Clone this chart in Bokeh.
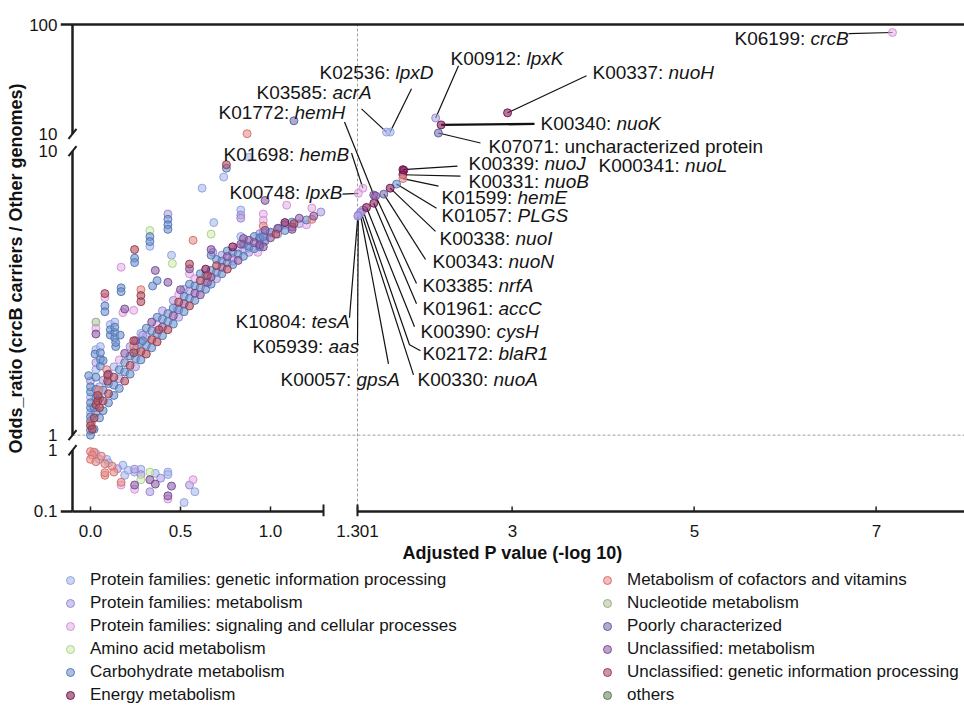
import math
from bokeh.plotting import figure
from bokeh.layouts import column
from bokeh.models import ColumnDataSource, Range1d, FixedTicker, Legend, LegendItem
from bokeh.core.properties import value
from bokeh.embed import file_html
from bokeh.resources import INLINE

FONT = "Liberation Sans"

# ---------------- categories ----------------
CATEGORIES = [
    "Protein families: genetic information processing",
    "Protein families: metabolism",
    "Protein families: signaling and cellular processes",
    "Amino acid metabolism",
    "Carbohydrate metabolism",
    "Energy metabolism",
    "Metabolism of cofactors and vitamins",
    "Nucleotide metabolism",
    "Poorly characterized",
    "Unclassified: metabolism",
    "Unclassified: genetic information processing",
    "others",
]
CODES = ["G", "M", "S", "A", "C", "E", "F", "N", "P", "U", "R", "O"]
FILL = ["#aab9ec", "#b3a3e3", "#e6b3e8", "#d2ebb4", "#6f93cc", "#861b5a",
        "#ea8f8a", "#b4c4a2", "#7474b0", "#8d63a8", "#b04f62", "#6f8a62"]
LINE = ["#8d9fdc", "#9583cf", "#cc8fd2", "#a6cf80", "#4f74b4", "#6a0f45",
        "#d26c68", "#93a67f", "#58589a", "#70478e", "#913748", "#576f4b"]

# ---------------- data: -log10 adjusted P (x), odds ratio (y) ----------------
# steep part near x = 0
zero_x = [0.0, 0.0, 0.0, 0.0, 0.0, 0.0, 0.0, 0.0, 0.0, 0.0, 0.0, 0.0, -0.01, 0.005, 0.01,
          0.03, 0.03, 0.03, 0.03, 0.03, 0.03, 0.03,
          0.03, 0.03, 0.03, 0.03, 0.025,
          0.04, 0.04, 0.045,
          0.055, 0.055, 0.055, 0.055,
          0.08, 0.08, 0.08, 0.08,
          0.07,
          0.095, 0.095, 0.09]
zero_y = [1.0, 1.04, 1.08, 1.12, 1.16, 1.2, 1.25, 1.3, 1.36, 1.42, 1.48, 1.55, 1.62, 1.1, 1.05,
          1.2, 1.28, 1.35, 1.45, 1.6, 1.7, 1.8,
          2.5, 2.38, 2.27, 2.0, 1.93,
          1.32, 1.38, 1.44,
          1.75, 1.85, 1.95, 2.05,
          3.15, 3.05, 2.85, 2.72,
          1.83,
          1.55, 1.63, 1.7]
zero_cat = ["C", "C", "R", "C", "C", "G", "C", "C", "G", "C", "C", "M", "C", "F", "R",
            "C", "R", "C", "C", "C", "G", "M",
            "N", "S", "U", "G", "C",
            "R", "R", "F",
            "C", "C", "C", "G",
            "R", "S", "C", "C",
            "C",
            "R", "R", "F"]

# main diagonal band
band_x = [0.02, 0.02, 0.02,
          0.05, 0.05, 0.05, 0.05,
          0.07, 0.07, 0.07, 0.07,
          0.10, 0.10, 0.10, 0.10,
          0.13, 0.13, 0.13, 0.13,
          0.16, 0.16, 0.16, 0.16,
          0.19, 0.19, 0.19, 0.19,
          0.22, 0.22, 0.22, 0.22,
          0.25, 0.25, 0.25, 0.25,
          0.28, 0.28, 0.28, 0.28,
          0.31, 0.31, 0.31, 0.31,
          0.34, 0.34, 0.34, 0.34,
          0.37, 0.37, 0.37, 0.37,
          0.40, 0.40, 0.40, 0.40,
          0.43, 0.43, 0.43,
          0.46, 0.46, 0.46, 0.46,
          0.49, 0.49, 0.49, 0.49,
          0.52, 0.52, 0.52, 0.52,
          0.55, 0.55, 0.55, 0.55,
          0.58, 0.58, 0.58, 0.58,
          0.61, 0.61, 0.61, 0.61,
          0.64, 0.64, 0.64, 0.64,
          0.67, 0.67, 0.67,
          0.70, 0.70, 0.70, 0.70,
          0.73, 0.73, 0.73, 0.73,
          0.76, 0.76, 0.76, 0.76,
          0.79, 0.79, 0.79, 0.79,
          0.82, 0.82, 0.82,
          0.85, 0.85, 0.85, 0.85,
          0.88, 0.88, 0.88,
          0.91, 0.91, 0.91,
          0.94, 0.94, 0.94,
          0.97, 0.97, 0.97,
          1.00, 1.00,
          1.04, 1.04,
          1.08, 1.08,
          1.12, 1.12,
          1.16, 1.16,
          1.20, 1.24, 1.28]
band_y = [1.05, 1.15, 1.25,
          1.15, 1.25, 1.35, 1.48,
          1.22, 1.32, 1.44, 1.56,
          1.30, 1.40, 1.52, 1.64,
          1.38, 1.50, 1.60, 1.74,
          1.46, 1.58, 1.70, 1.84,
          1.55, 1.67, 1.80, 1.94,
          1.64, 1.76, 1.90, 2.05,
          1.74, 1.86, 2.00, 2.15,
          1.84, 1.97, 2.12, 2.28,
          1.93, 2.07, 2.22, 2.38,
          2.03, 2.17, 2.33, 2.50,
          2.13, 2.28, 2.44, 2.60,
          2.24, 2.40, 2.56, 2.74,
          2.35, 2.51, 2.68,
          2.46, 2.63, 2.80, 2.98,
          2.60, 2.76, 2.94, 3.12,
          2.72, 2.90, 3.08, 3.26,
          2.85, 3.03, 3.22, 3.40,
          2.98, 3.16, 3.35, 3.55,
          3.12, 3.30, 3.50, 3.70,
          3.26, 3.44, 3.64, 3.84,
          3.40, 3.60, 3.80,
          3.55, 3.74, 3.95, 4.15,
          3.70, 3.90, 4.10, 4.30,
          3.84, 4.04, 4.25, 4.45,
          3.98, 4.20, 4.40, 4.60,
          4.12, 4.34, 4.56,
          4.26, 4.48, 4.70, 4.92,
          4.40, 4.62, 4.85,
          4.54, 4.76, 5.00,
          4.68, 4.90, 5.12,
          4.82, 5.04, 5.26,
          4.95, 5.18,
          5.10, 5.34,
          5.25, 5.50,
          5.40, 5.62,
          5.55, 5.80,
          5.72, 5.90, 6.10]
band_cat = ["C", "R", "C",
            "C", "R", "C", "G",
            "C", "R", "C", "M",
            "C", "R", "C", "U",
            "C", "C", "R", "G",
            "C", "M", "C", "S",
            "R", "C", "C", "U",
            "C", "R", "C", "M",
            "M", "C", "C", "U",
            "C", "R", "C", "G",
            "R", "C", "M", "C",
            "C", "R", "C", "U",
            "R", "C", "S", "C",
            "C", "U", "C", "M",
            "R", "C", "C",
            "C", "U", "C", "M",
            "M", "C", "R", "S",
            "C", "U", "C", "G",
            "R", "C", "M", "C",
            "C", "U", "C", "S",
            "U", "C", "R", "C",
            "C", "M", "C", "E",
            "C", "U", "C",
            "M", "C", "R", "C",
            "C", "U", "C", "M",
            "R", "C", "U", "C",
            "C", "M", "C", "E",
            "U", "C", "S",
            "C", "M", "C", "U",
            "M", "C", "U",
            "C", "U", "C",
            "U", "C", "M",
            "C", "M", "U",
            "U", "C",
            "M", "U",
            "C", "M",
            "U", "C",
            "M", "U",
            "C", "U", "M"]

# scattered points above the band
up_x = [0.11, 0.11, 0.11, 0.135, 0.135, 0.135, 0.135, 0.14, 0.14, 0.165,
        0.17, 0.17, 0.17, 0.18, 0.19, 0.245, 0.245, 0.245, 0.24, 0.24, 0.24, 0.24,
        0.28, 0.28, 0.28, 0.29, 0.29, 0.33, 0.33, 0.33, 0.33, 0.345, 0.36, 0.37,
        0.38, 0.43, 0.43, 0.43, 0.43, 0.43, 0.45, 0.455, 0.48, 0.5,
        0.55, 0.55, 0.55, 0.57, 0.62, 0.65, 0.65, 0.67, 0.67, 0.67, 0.685, 0.68,
        0.74, 0.755, 0.755, 0.79, 0.835, 0.835, 0.835, 0.835, 0.835, 0.88, 0.87,
        0.88, 0.93, 0.94, 0.94, 0.96, 0.96, 0.96, 0.96, 0.96, 0.96, 0.96, 0.97,
        1.0, 1.03, 1.045, 1.08, 1.09, 1.12, 1.13, 1.13, 1.2, 1.23, 1.23]
up_y = [2.25, 2.35, 2.45, 2.2, 2.3, 2.4, 2.5, 2.05, 2.12, 2.25,
        3.9, 3.3, 3.2, 2.7, 2.78, 4.5, 4.2, 4.05, 2.75, 1.95, 2.05, 2.15,
        3.25, 3.1, 2.95, 2.15, 2.25, 5.25, 5.0, 4.8, 4.62, 3.35, 3.8, 3.5,
        2.35, 6.0, 5.75, 5.5, 5.3, 3.45, 4.3, 4.02, 2.8, 3.25,
        4.0, 3.85, 3.7, 4.85, 7.4, 3.65, 3.45, 5.1, 4.5, 4.3, 5.6, 4.4,
        8.1, 8.95, 8.7, 4.1, 6.2, 5.95, 5.8, 5.0, 4.7, 4.55, 10.05,
        9.5, 4.4, 4.95, 4.6, 6.0, 5.7, 5.45, 5.2, 5.0, 4.8, 4.6, 6.7,
        5.15, 5.1, 5.35, 5.6, 6.45, 5.3, 13.2, 5.55, 5.5, 6.3, 5.75]
up_cat = ["C", "C", "G", "C", "C", "C", "G", "C", "C", "C",
          "S", "C", "C", "S", "U", "R", "C", "C", "S", "R", "F", "R",
          "F", "R", "R", "C", "M", "A", "C", "C", "G", "C", "U", "C",
          "R", "M", "C", "C", "C", "U", "G", "A", "S", "U",
          "R", "U", "S", "F", "G", "R", "U", "A", "U", "C", "G", "M",
          "G", "R", "C", "S", "G", "M", "M", "G", "U", "M", "F",
          "G", "S", "C", "C", "S", "S", "F", "M", "C", "S", "U", "U",
          "S", "R", "C", "E", "S", "U", "P", "R", "S", "S", "F"]

# odds ratio below 1
low_x = [0.0, 0.02, 0.01, 0.0, 0.05, 0.08, 0.09, 0.08, 0.08, 0.13, 0.18, 0.19,
         0.17, 0.17, 0.245, 0.245, 0.245, 0.245, 0.28, 0.28, 0.33, 0.33, 0.36,
         0.33, 0.43, 0.43, 0.45, 0.43, 0.43, 0.52, 0.55, 0.57, 0.58, 0.03, 0.06,
         0.1, 0.12, 0.03, 0.15, 0.21, 0.28, 0.36, 0.39]
low_y = [0.95, 0.93, 0.83, 0.71, 0.71, 0.6, 0.71, 0.39, 0.43, 0.44, 0.57, 0.39,
         0.3, 0.27, 0.49, 0.44, 0.27, 0.23, 0.33, 0.49, 0.44, 0.33, 0.28,
         0.21, 0.44, 0.4, 0.26, 0.18, 0.16, 0.14, 0.27, 0.33, 0.21, 0.88, 0.8,
         0.62, 0.55, 0.65, 0.5, 0.47, 0.4, 0.42, 0.35]
low_cat = ["F", "F", "F", "F", "G", "F", "G", "F", "F", "F", "G", "G",
           "F", "S", "M", "G", "U", "S", "A", "G", "A", "U", "U",
           "M", "G", "G", "U", "U", "S", "G", "M", "S", "G", "G", "F",
           "G", "F", "F", "M", "G", "M", "G", "M"]

# significant KOs (adjusted P < 0.05)
sig_ko = ["K06199", "K00337", "K00912", "K00340", "K07071", "K02536", "K03585",
          "K00339", "K000341", "K00331", "K01599", "K01057", "K00338", "K00343",
          "K01772", "K03385", "K01698", "K00748", "K01961", "K00390", "K02172",
          "K00330", "K00057", "K05939", "K10804"]
sig_gene = ["crcB", "nuoH", "lpxK", "nuoK", "uncharacterized protein", "lpxD", "acrA",
            "nuoJ", "nuoL", "nuoB", "hemE", "PLGS", "nuoI", "nuoN",
            "hemH", "nrfA", "hemB", "lpxB", "accC", "cysH", "blaR1",
            "nuoA", "gpsA", "aas", "tesA"]
sig_x = [7.18, 2.95, 2.16, 2.22, 2.19, 1.66, 1.62, 1.80, 1.81, 1.80, 1.80, 1.73,
         1.66, 1.59, 1.48, 1.50, 1.36, 1.31, 1.48, 1.40, 1.36, 1.34, 1.33, 1.31, 1.305]
sig_y = [84.5, 15.6, 14.0, 12.1, 10.2, 10.4, 10.4, 8.6, 8.55, 8.25, 8.0, 7.65,
         7.4, 7.05, 7.0, 6.95, 7.4, 7.1, 6.55, 6.33, 6.2, 6.1, 6.05, 5.95, 5.9]
sig_cat = ["S", "E", "M", "E", "P", "G", "G", "E", "E", "E", "F", "C",
           "E", "P", "U", "U", "S", "S", "E", "E", "M", "M", "M", "M", "M"]

x_ticks = [0.0, 0.5, 1.0, 1.301, 3, 5, 7]
x_tick_labels = ["0.0", "0.5", "1.0", "1.301", "3", "5", "7"]

# ---------------- broken-axis transforms (data -> plot units) ----------------
def fx(x):
    if x <= 1.3:
        return 18 + 180 * x
    return 285 + 91 * (x - 1.301)

def fy_bot(y):
    return 61 * (math.log10(y) + 1)

def fy_main(y):
    return 76 + 283 * math.log10(y)

def fy_top(y):
    return 376 + 109 * (math.log10(y) - 1)

def fy(y):
    if y < 1:
        return fy_bot(y)
    if y <= 10:
        return fy_main(y)
    return fy_top(y)

# annotation layout (pixel offsets from the axis corner): label left, label y, leader ends
def px(sx, sy):
    return (sx - 72, 509 - sy)

ann_layout = [
    (734, 38, [(848, 33)]), (592, 72, [(586, 75)]), (450, 58, [(458, 65)]),
    (540, 123, [(534, 123)]), (488, 145, [(480, 142)]), (319, 72, [(411, 88)]),
    (256, 92, [(361, 108)]), (468, 162, [(457, 165)]), (598, 164, []),
    (468, 180, [(460, 175)]), (441, 196, [(438, 185)]), (441, 214, [(436, 207)]),
    (439, 237, [(435, 230)]), (432, 260, [(425, 258)]), (218, 112, [(344, 121)]),
    (422, 284, [(416, 282)]), (223, 153, [(351, 152)]), (229, 191, [(342, 193)]),
    (422, 307, [(416, 302)]), (420, 330, [(414, 325)]), (422, 352, [(409, 343), (420, 349)]),
    (417, 378, [(413, 373)]), (280, 378, [(388, 362)]), (252, 345, [(357, 343)]),
    (235, 320, [(349, 316)]),
]

# ---------------- main figure ----------------
p = figure(width=964, height=565, x_range=Range1d(-12, 892), y_range=Range1d(-5, 489),
           output_backend="svg", toolbar_location=None,
           min_border_left=60, min_border_right=0, min_border_top=20, min_border_bottom=0)
p.xgrid.visible = False
p.ygrid.visible = False
p.outline_line_color = None

AX = "#1e1e1e"
# reference lines
p.segment(x0=[fx(1.301)], y0=[fy_bot(0.1)], x1=[fx(1.301)], y1=[fy_top(100)],
          line_color="#a0a0a0", line_dash="3 2", line_width=1)
p.segment(x0=[0], y0=[fy_main(1)], x1=[892], y1=[fy_main(1)],
          line_color="#a0a0a0", line_dash="3 2", line_width=1)

# leader lines
lx, ly, lw = [], [], []
for i, (sx, sy, ends) in enumerate(ann_layout):
    if not ends:
        continue
    xs = [fx(sig_x[i])] + [px(a, b)[0] for a, b in ends]
    ys = [fy(sig_y[i])] + [px(a, b)[1] for a, b in ends]
    lx.append(xs)
    ly.append(ys)
    lw.append(2.4 if sig_gene[i] == "nuoK" else 1.2)
p.multi_line(xs="xs", ys="ys", line_width="lw", line_color="#111111",
             source=ColumnDataSource(dict(xs=lx, ys=ly, lw=lw)))

# points
all_x = zero_x + band_x + up_x + low_x + sig_x
all_y = zero_y + band_y + up_y + low_y + sig_y
all_c = zero_cat + band_cat + up_cat + low_cat + sig_cat
for code, fc, lc in zip(CODES, FILL, LINE):
    xs = [fx(a) for a, c in zip(all_x, all_c) if c == code]
    ys = [fy(b) for b, c in zip(all_y, all_c) if c == code]
    p.scatter(x="x", y="y", source=ColumnDataSource(dict(x=xs, y=ys)), size=8,
              marker="circle", fill_color=fc, fill_alpha=0.6, line_color=lc,
              line_alpha=0.9, line_width=1)

# broken axis lines
seg_x0 = [0, 0, 0, 0, 285, -12, -12]
seg_y0 = [fy_top(10), fy_main(1), fy_bot(0.1), 0, 0, fy_top(100), fy_bot(0.1)]
seg_x1 = [0, 0, 0, 251, 892, 892, 0]
seg_y1 = [fy_top(100), fy_main(10), fy_bot(1), 0, 0, fy_top(100), fy_bot(0.1)]
p.segment(x0=seg_x0, y0=seg_y0, x1=seg_x1, y1=seg_y1, line_color=AX, line_width=2.5)
brk = [fy_top(10), fy_main(10), fy_main(1), fy_bot(1)]
p.segment(x0=[-4] * 4, y0=[b - 5 for b in brk], x1=[4] * 4, y1=[b + 5 for b in brk],
          line_color=AX, line_width=2)
tick_u = [fx(t) for t in x_ticks]
p.segment(x0=tick_u, y0=[0] * len(tick_u), x1=tick_u, y1=[5] * len(tick_u),
          line_color=AX, line_width=1.5)
p.segment(x0=[251, 285], y0=[-5, -5], x1=[251, 285], y1=[7, 7], line_color=AX, line_width=2)

# annotation text
pre_x, pre_y, pre_t, g_x, g_y, g_t, g_s = [], [], [], [], [], [], []
for i, (sx, sy, ends) in enumerate(ann_layout):
    u, v = px(sx, sy)
    prefix = sig_ko[i] + ":"
    off = 19 * (0.667 + 0.556 * (len(prefix) - 2) + 0.278 + 0.278)
    pre_x.append(u); pre_y.append(v); pre_t.append(prefix)
    g_x.append(u + off); g_y.append(v); g_t.append(sig_gene[i])
    g_s.append("normal" if " " in sig_gene[i] else "italic")
p.text(x="x", y="y", text="t", source=ColumnDataSource(dict(x=pre_x, y=pre_y, t=pre_t)),
       text_font=value(FONT), text_font_size="19px", text_baseline="middle",
       text_align="left", text_color="#151515")
p.text(x="x", y="y", text="t", text_font_style="s",
       source=ColumnDataSource(dict(x=g_x, y=g_y, t=g_t, s=g_s)),
       text_font=value(FONT), text_font_size="19px", text_baseline="middle",
       text_align="left", text_color="#151515")

# axes (labels only; lines drawn above)
xt_pos = [round(fx(t)) for t in x_ticks]
p.xaxis.ticker = FixedTicker(ticks=xt_pos)
p.xaxis.major_label_overrides = {k: v for k, v in zip(xt_pos, x_tick_labels)}
yt_pos = [round(fy_top(100)), round(fy_top(10)), round(fy_main(10)), round(fy_main(1)),
          round(fy_bot(1)), round(fy_bot(0.1))]
yt_lab = ["100", "10", "10", "1", "1", "0.1"]
p.yaxis.ticker = FixedTicker(ticks=yt_pos)
p.yaxis.major_label_overrides = {k: v for k, v in zip(yt_pos, yt_lab)}
for ax in (p.xaxis, p.yaxis):
    ax.axis_line_color = None
    ax.major_tick_line_color = None
    ax.minor_tick_line_color = None
    ax.major_tick_in = 0
    ax.major_tick_out = 0
    ax.minor_tick_in = 0
    ax.minor_tick_out = 0
    ax.major_label_text_font = FONT
    ax.major_label_text_font_size = "17px"
    ax.major_label_text_color = "#151515"
    ax.axis_label_text_font = FONT
    ax.axis_label_text_font_style = "bold"
    ax.axis_label_text_font_size = "18px"
    ax.axis_label_text_color = "#111111"
p.xaxis.axis_label = "Adjusted P value (-log 10)"
p.xaxis.major_label_standoff = 8
p.xaxis.axis_label_standoff = 3
p.yaxis.axis_label = "Odds_ratio (crcB carriers / Other genomes)"
p.yaxis.major_label_standoff = 3
p.yaxis.axis_label_standoff = 0

# ---------------- legend figure ----------------
lg = figure(width=964, height=140, x_range=Range1d(0, 1), y_range=Range1d(0, 1),
            output_backend="svg", toolbar_location=None,
            x_axis_location=None, y_axis_location=None,
            min_border_left=0, min_border_right=0, min_border_top=0, min_border_bottom=0)
lg.xgrid.visible = False
lg.ygrid.visible = False
lg.outline_line_color = None
items = []
for cat, fc, lc in zip(CATEGORIES, FILL, LINE):
    r = lg.scatter(x="x", y="y", source=ColumnDataSource(dict(x=[-5], y=[-5])), size=8,
                   marker="circle", fill_color=fc, fill_alpha=0.6, line_color=lc,
                   line_alpha=0.9, line_width=1)
    items.append(LegendItem(label=cat, renderers=[r]))
legend = Legend(items=items, orientation="vertical", nrows=6, location=(0, 0),
                glyph_width=20, glyph_height=20, label_height=20, label_width=504,
                label_standoff=10, spacing=3, padding=1, margin=0,
                border_line_color=None, background_fill_alpha=0,
                label_text_font=FONT, label_text_font_size="17px", label_text_color="#151515")
lg.add_layout(legend, "center")

layout = column(p, lg, spacing=0)
open("out.html", "w").write(file_html(layout, INLINE))
